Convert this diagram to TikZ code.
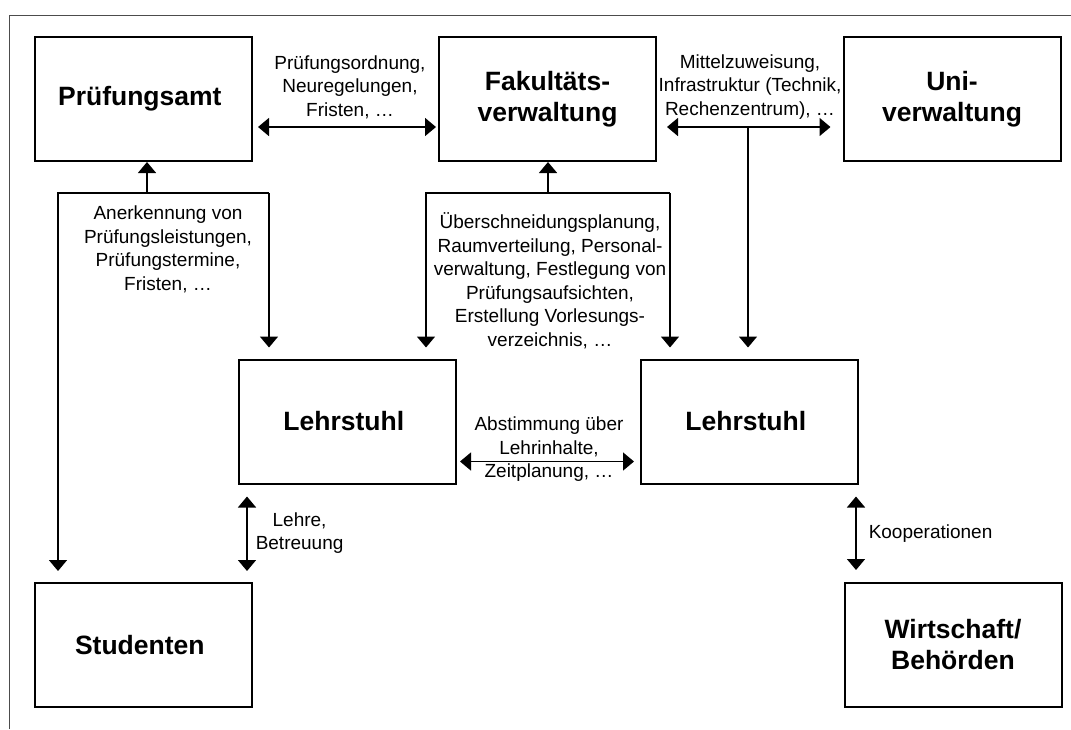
\documentclass[tikz,border=0pt]{standalone}
\usepackage{fontspec}
\setmainfont{Liberation Sans}
\usetikzlibrary{arrows.meta}
\newcommand{\lbltext}{\fontsize{19}{23.5}\selectfont}
\newcommand{\boxtext}{\fontsize{26.5}{31}\selectfont\bfseries}

\begin{document}
\begin{tikzpicture}[ x = 1pt, y = -1pt,
	> = { Triangle[ length = 11pt, width = 18pt ] },
	box/.style = { draw, line width = 2pt, minimum width = 217pt,
		minimum height = 124pt, align = center, font = \boxtext, inner sep = 0pt },
	txt/.style = { align = center, font = \lbltext, inner sep = 0pt },
	link/.style = { line width = 1.5pt } ]
	\useasboundingbox (0,0) rectangle (1071,729);
	\draw [ line width = 1pt, black!70 ] (9,729) -- (9,15) -- (1071,15);

	\node [box] (pa) at (143.5,99) 
		{ Prüfungsamt };
	\node [box] (fak) at (547.5,99) 
		{ Fakultäts-\\verwaltung };
	\node [box] (uni) at (952,99) 
		{ Uni-\\verwaltung };
	\node [box] (ls1) at (347.5,421.5) 
		{ Lehrstuhl };
	\node [box] (ls2) at (749.5,421.5) 
		{ Lehrstuhl };
	\node [box] (stud) at (143.5,645) 
		{ Studenten };
	\node [box] (wirt) at (953,645) 
		{ Wirtschaft/\\Behörden };

	\node [txt] (ordnung) at (350,87) 
		{ Prüfungsordnung,\\Neuregelungen,\\Fristen, … };
	\node [txt] (mittel) at (750,87) 
		{ Mittelzuweisung,\\Infrastruktur (Technik,\\Rechenzentrum), … };
	\node [txt] (anerk) at (168,249.5) 
		{ Anerkennung von\\Prüfungsleistungen,\\Prüfungstermine,\\Fristen, … };
	\node [txt] (planung) at (550,281) 
		{ Überschneidungsplanung,\\Raumverteilung, Personal-\\verwaltung, Festlegung von\\Prüfungsaufsichten,\\Erstellung Vorlesungs-\\verzeichnis, … };
	\node [txt] (abst) at (549,449.5) 
		{ Abstimmung über\\Lehrinhalte,\\Zeitplanung, … };

	\coordinate (pj) at (147,193);
	\coordinate (pl) at (58,193);
	\coordinate (pr) at (269,193);
	\coordinate (fj) at (548,193);
	\coordinate (fl) at (426,193);
	\coordinate (fr) at (670,193);
	\coordinate (fu) at (748,127);
	\coordinate (lh) at (247,0);
	\coordinate (ko) at (856,0);

	\draw [ <-> , link ] ([shift={(5,28)}]pa.east) to 
		([shift={(-2,28)}]fak.west);
	\draw [ <-> , link ] ([shift={(10,28)}]fak.east) to 
		([shift={(-12,28)}]uni.west);
	\draw [ -> , link, shorten > = 11pt ] (fu) to 
		(fu |- ls2.north);

	\draw [ -> , link ] (pj) to (pj |- pa.south);
	\draw [ -> , link, shorten > = 11pt ] (pr) -- (pl) -- 
		(pl |- stud.north);
	\draw [ -> , link, shorten > = 11pt ] (pr) to 
		(pr |- ls1.north);

	\draw [ -> , link ] (fj) to (fj |- fak.south);
	\draw [ -> , link, shorten > = 11pt ] (fr) -- (fl) -- 
		(fl |- ls1.north);
	\draw [ -> , link, shorten > = 11pt ] (fr) to 
		(fr |- ls2.north);

	\draw [ <-> , link ] ([shift={(3,40)}]ls1.east) to 
		([shift={(-6,40)}]ls2.west);
	\draw [ <-> , link, shorten < = 12pt, shorten > = 11pt ] (lh |- ls1.south) to 
		node [txt, right, xshift = 8pt] { Lehre,\\Betreuung } 
		(lh |- stud.north);
	\draw [ <-> , link, shorten < = 12pt, shorten > = 12pt ] (ko |- ls2.south) to 
		node [txt, right, xshift = 12pt] { Kooperationen } 
		(ko |- wirt.north);
\end{tikzpicture}
\end{document}
